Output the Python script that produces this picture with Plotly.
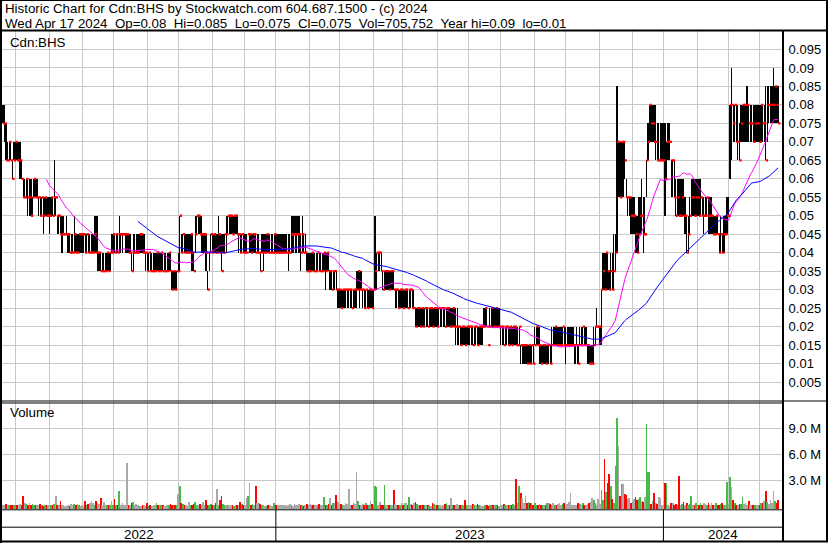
import numpy as np
import pandas as pd
import plotly.graph_objects as go

W, H = 830, 543

# ---------------- data ----------------
months = ["2022-04", "2022-05", "2022-06", "2022-07", "2022-08", "2022-09", "2022-10",
          "2022-11", "2022-12", "2023-01", "2023-02", "2023-03", "2023-04", "2023-05",
          "2023-06", "2023-07", "2023-08", "2023-09", "2023-10", "2023-11", "2023-12",
          "2024-01", "2024-02", "2024-03", "2024-04"]
sessions_per_month = [8, 22, 21, 20, 22, 20, 22, 21, 20, 22, 19, 22, 19, 22, 20, 21, 22,
                      20, 22, 21, 20, 22, 20, 20, 13]
years = ["2022", "2023", "2024"]

price_tick_labels = ["0.005", "0.01", "0.015", "0.02", "0.025", "0.03", "0.035", "0.04",
                     "0.045", "0.05", "0.055", "0.06", "0.065", "0.07", "0.075", "0.08",
                     "0.085", "0.09", "0.095"]
volume_tick_labels = ["3.0 M", "6.0 M", "9.0 M"]

# daily prices in cents
high_cents = [
    8, 8, 7.5, 7, 7, 7, 6.5, 7, 7, 7,
    7, 7, 6.5, 6, 6, 6, 6, 6, 6, 5.5,
    6, 6, 6, 5.5, 5.5, 5.5, 5.5, 5.5, 5.5, 5.5,
    5.5, 5.5, 5.5, 6.5, 5.5, 5, 5, 5, 5, 5,
    4.5, 5, 4.5, 4.5, 4.5, 4.5, 5, 4.5, 4.5, 4.5,
    4.5, 4.5, 4.5, 4.5, 4.5, 4.5, 4.5, 4.5, 4.5, 5,
    5, 5, 4, 4, 4, 4, 4, 4, 4, 4,
    4.5, 4.5, 4.5, 4.5, 4.5, 5, 4.5, 4.5, 4.5, 4.5,
    4.5, 4.5, 4.5, 4, 4.5, 4.5, 4.5, 4.5, 4.5, 4.5,
    4.5, 4.5, 4, 4, 4, 4, 4, 4, 4, 4,
    4, 4, 4, 4, 4, 4, 4, 4, 4, 3.5,
    3.5, 3.5, 3.5, 4, 5, 4.5, 4.5, 4.5, 4.5, 4.5,
    4.5, 4.5, 4.5, 4, 5, 5, 5, 5, 5, 4.5,
    4.5, 4.5, 3.5, 4, 4.5, 4.5, 4.5, 4.5, 4.5, 5,
    4.5, 4.5, 4.5, 4.5, 5, 5, 5, 5, 5, 5,
    5, 5, 4.5, 4.5, 4.5, 4.5, 4.5, 4.5, 4.5, 4.5,
    4.5, 4.5, 4.5, 4.5, 4.5, 4.5, 4, 4.5, 4.5, 4.5,
    4.5, 4.5, 4.5, 4.5, 4.5, 4.5, 4.5, 4.5, 4.5, 4.5,
    4.5, 4.5, 4.5, 4.5, 4.5, 4.5, 5, 5, 5, 5,
    5, 5, 4.5, 5, 4.5, 4.5, 4, 4, 4, 4,
    4, 4, 4, 4, 4, 4, 4, 4, 4, 4,
    4, 3.5, 3.5, 3.5, 3.5, 3.5, 3, 3, 3, 3,
    3, 3, 3, 3, 3, 3, 3, 3, 3.5, 3.5,
    3.5, 3.5, 3, 3, 3, 3, 3, 3, 3, 3,
    5, 4, 4, 4, 4, 3.5, 3.5, 3.5, 3.5, 3.5,
    3.5, 3.5, 3.5, 3, 3, 3, 3, 3, 3, 3,
    3, 3, 3, 3, 3, 3, 2.5, 2.5, 2.5, 2.5,
    2.5, 2.5, 2.5, 2.5, 2.5, 2.5, 2.5, 2.5, 2.5, 2.5,
    2.5, 2.5, 2.5, 2.5, 2.5, 2.5, 2.5, 2.5, 2.5, 2.5,
    2.5, 2.5, 2.5, 2.5, 2, 2, 2, 2, 2, 2,
    2, 2, 2, 2, 2, 2, 2, 2, 2, 2,
    2.5, 2.5, 2.5, 1.5, 2.5, 2.5, 2.5, 2.5, 2.5, 2.5,
    2.5, 2, 2, 2, 2, 2, 2, 2, 2, 2,
    2, 2, 2, 2, 1.5, 1.5, 1.5, 1.5, 1.5, 1.5,
    1.5, 1.5, 1.5, 2, 2, 2, 2, 1.5, 1.5, 1.5,
    1.5, 1.5, 1.5, 1.5, 2, 2, 2, 2, 2, 2,
    2, 2, 2, 2, 2, 2, 2, 2, 2, 1.5,
    2, 1.5, 2, 2, 2, 2, 2, 1.5, 1.5, 1.5,
    1.5, 2, 2, 2.5, 2, 2, 3, 4, 4, 4,
    4, 3.5, 4, 4, 4.5, 4.5, 8.5, 7, 7, 7,
    7, 7, 6, 5.5, 5.5, 5.5, 5.5, 5.5, 5, 5,
    5.5, 5.5, 6, 5.5, 5.5, 6.5, 7.5, 8, 8, 8,
    8, 8, 7.5, 7.5, 7.5, 7.5, 7.5, 7.5, 7, 7.5,
    7.5, 6.5, 6.5, 6.5, 6, 6, 6, 6, 6, 6,
    5.5, 5, 5, 5.5, 6, 6, 6, 6, 6, 6,
    6, 5.5, 5.5, 5.5, 5.5, 5.5, 5.5, 5.5, 5, 5,
    5, 5, 4.5, 5, 4.5, 5, 5, 5.5, 5.5, 8,
    9, 8, 8, 8, 8, 7.5, 8, 8, 8, 8,
    8.5, 8, 8, 8, 8, 8, 8, 8, 8, 8,
    8, 8, 8.5, 8.5, 8.5, 8.5, 8.5, 9, 8.5, 8.5,
    8.5,
]
low_cents = [
    7.5, 7, 6.5, 6.5, 6.5, 6.5, 6, 6.5, 6.5, 6.5,
    6.5, 6, 6, 5.5, 5.5, 5.5, 5, 5, 5, 5,
    5.5, 5.5, 5.5, 5, 5, 5, 4.5, 5, 5, 5,
    4.5, 5, 5, 5, 5, 4.5, 4.5, 4.5, 4, 4.5,
    4.5, 4.5, 4, 4, 4, 4, 4, 4, 4, 4,
    4, 4, 4, 4, 4, 4, 4, 4, 4, 4,
    4, 3.5, 3.5, 3.5, 3.5, 3.5, 3.5, 3.5, 3.5, 3.5,
    4, 4, 4, 4, 4, 4, 4, 4, 4.5, 4,
    4, 4, 4, 3.5, 3.5, 4, 4, 4, 4, 4,
    4, 4, 3.5, 3.5, 3.5, 3.5, 3.5, 3.5, 3.5, 3.5,
    3.5, 3.5, 3.5, 3.5, 3.5, 3.5, 3.5, 3.5, 3.5, 3,
    3, 3, 3, 3.5, 3.5, 4, 4, 4, 4, 4,
    4, 4, 3.5, 3.5, 4, 4.5, 4.5, 4.5, 4, 4,
    4, 3.5, 3, 3.5, 4, 4, 4, 4, 4, 4,
    4, 3.5, 4, 4, 4, 4.5, 4.5, 4.5, 4.5, 4.5,
    4.5, 4.5, 4, 4, 4, 4, 4, 4, 4.5, 4,
    4, 4, 4, 4, 4, 4, 3.5, 4, 3.5, 4,
    4, 4, 4, 4, 4, 4, 4, 4, 4, 4,
    4, 4, 4, 4, 3.5, 4, 4, 4, 4.5, 4,
    4.5, 4, 3.5, 4, 4, 4, 3.5, 3.5, 3.5, 3.5,
    3.5, 3.5, 3.5, 3.5, 3.5, 3.5, 3.5, 3.5, 3, 3.5,
    3.5, 3, 3, 3, 3, 3, 2.5, 2.5, 2.5, 2.5,
    2.5, 2.5, 2.5, 2.5, 2.5, 2.5, 2.5, 2.5, 2.5, 3,
    2.5, 3, 2.5, 2.5, 2.5, 2.5, 2.5, 2.5, 2.5, 2.5,
    3, 3, 3.5, 3.5, 3.5, 3, 3, 3, 3, 3,
    3, 3, 3, 2.5, 2.5, 2.5, 2.5, 2.5, 2.5, 2.5,
    2.5, 2.5, 2.5, 2.5, 2.5, 2.5, 2, 2, 2, 2,
    2, 2, 2, 2, 2, 2, 2, 2, 2, 2,
    2, 2, 2, 2, 2, 2, 2, 2, 2, 2,
    2, 2, 1.5, 1.5, 1.5, 1.5, 1.5, 1.5, 1.5, 1.5,
    1.5, 1.5, 1.5, 1.5, 1.5, 1.5, 1.5, 1.5, 1.5, 1.5,
    2, 2, 2, 1.5, 2, 2, 2, 2, 2, 2,
    2, 1.5, 1.5, 1.5, 1.5, 1.5, 1.5, 1.5, 1.5, 1.5,
    1.5, 1.5, 1.5, 1.5, 1, 1, 1, 1, 1, 1,
    1, 1, 1, 1.5, 1.5, 1.5, 1, 1, 1, 1,
    1, 1, 1, 1, 1, 1.5, 1.5, 1.5, 1.5, 1.5,
    1.5, 1.5, 1.5, 1, 1.5, 1.5, 1.5, 1.5, 1.5, 1,
    1.5, 1, 1.5, 1.5, 1.5, 1.5, 1.5, 1, 1, 1,
    1, 1, 1.5, 2, 2, 1.5, 1.5, 3, 3, 3,
    3, 3, 3, 3, 3, 3.5, 4, 5.5, 5.5, 5.5,
    5.5, 6, 5.5, 5, 5, 4.5, 4.5, 4.5, 4, 4,
    4, 4.5, 4.5, 4, 4.5, 5.5, 6.5, 7, 7, 7,
    7, 6.5, 6.5, 6.5, 6.5, 6.5, 6.5, 5, 6, 6.5,
    6.5, 5.5, 5.5, 5.5, 5, 5, 5, 5, 5, 5,
    4.5, 4, 4, 4.5, 5, 5, 5, 5, 5, 5,
    5, 5, 4.5, 5, 5, 4.5, 4.5, 4.5, 4.5, 4.5,
    4.5, 4.5, 4, 4, 4, 4, 4.5, 4.5, 5, 6,
    6.5, 7, 7, 7, 6.5, 6.5, 7, 7, 7, 7,
    7, 7, 7, 7, 7, 7, 7, 7, 7, 7,
    7, 7, 6.5, 7, 7.5, 7.5, 7.5, 7.5, 7.5, 7.5,
    7.5,
]
close_cents = [
    7.5, 7.5, 6.5, 6.5, 7, 6.5, 6, 6.5, 7, 6.5,
    6.5, 6.5, 6, 5.5, 5.5, 6, 5.5, 5.5, 5, 5.5,
    6, 5.5, 5.5, 5.5, 5, 5.5, 5, 5.5, 5, 5,
    5, 5.5, 5, 5.5, 5.5, 5, 5, 4.5, 4.5, 4.5,
    4.5, 4.5, 4.5, 4, 4, 4, 4.5, 4, 4, 4.5,
    4.5, 4.5, 4.5, 4, 4.5, 4, 4, 4, 4, 4.5,
    4, 4, 4, 3.5, 3.5, 3.5, 3.5, 4, 3.5, 4,
    4, 4.5, 4, 4.5, 4, 4.5, 4.5, 4.5, 4.5, 4.5,
    4.5, 4, 4, 3.5, 4, 4, 4, 4, 4.5, 4.5,
    4, 4, 4, 3.5, 4, 3.5, 3.5, 3.5, 3.5, 4,
    3.5, 3.5, 4, 3.5, 3.5, 3.5, 3.5, 4, 3.5, 3,
    3.5, 3, 3.5, 3.5, 5, 4, 4.5, 4, 4, 4,
    4, 4.5, 4, 3.5, 4.5, 5, 5, 4.5, 4.5, 4.5,
    4.5, 4, 3, 4, 4.5, 4, 4.5, 4, 4, 4.5,
    4, 3.5, 4, 4.5, 4.5, 5, 5, 5, 4.5, 5,
    5, 4.5, 4.5, 4, 4.5, 4, 4, 4, 4.5, 4.5,
    4, 4.5, 4.5, 4, 4, 4, 3.5, 4, 4, 4,
    4.5, 4, 4, 4, 4, 4.5, 4, 4, 4, 4,
    4, 4, 4, 4, 4, 4, 4.5, 4.5, 4.5, 4.5,
    4.5, 4.5, 4, 4.5, 4, 4, 3.5, 3.5, 3.5, 4,
    3.5, 3.5, 3.5, 4, 3.5, 3.5, 3.5, 4, 3.5, 4,
    3.5, 3.5, 3, 3.5, 3.5, 3, 3, 3, 2.5, 3,
    3, 3, 3, 3, 3, 2.5, 3, 3, 3, 3.5,
    3, 3, 3, 2.5, 3, 2.5, 3, 3, 2.5, 3,
    3.5, 4, 4, 4, 3.5, 3, 3.5, 3.5, 3.5, 3,
    3.5, 3.5, 3, 3, 3, 2.5, 3, 3, 2.5, 3,
    3, 2.5, 3, 3, 2.5, 2.5, 2, 2.5, 2.5, 2,
    2.5, 2, 2.5, 2.5, 2, 2.5, 2.5, 2, 2.5, 2.5,
    2, 2.5, 2.5, 2.5, 2.5, 2, 2.5, 2.5, 2, 2,
    2.5, 2, 2, 2, 2, 1.5, 2, 2, 1.5, 2,
    2, 2, 2, 1.5, 2, 2, 1.5, 2, 2, 2,
    2, 2.5, 2, 1.5, 2, 2.5, 2, 2, 2.5, 2,
    2, 2, 2, 1.5, 2, 2, 1.5, 2, 1.5, 2,
    2, 1.5, 1.5, 2, 1.5, 1.5, 1.5, 1.5, 1, 1.5,
    1, 1.5, 1, 1.5, 2, 1.5, 1.5, 1, 1.5, 1.5,
    1, 1.5, 1.5, 1, 1.5, 1.5, 2, 1.5, 1.5, 1.5,
    1.5, 2, 1.5, 1.5, 1.5, 1.5, 1.5, 1.5, 1.5, 1.5,
    1.5, 1, 1.5, 1.5, 2, 1.5, 1.5, 1.5, 1, 1,
    1, 1.5, 2, 2, 2, 2, 3, 3.5, 3, 4,
    3.5, 3, 3.5, 3, 3.5, 4, 7, 7, 5.5, 7,
    7, 6.5, 5.5, 5.5, 5.5, 5, 5, 5, 4.5, 4,
    4.5, 5, 5, 4.5, 4.5, 6.5, 7, 8, 7.5, 7.5,
    7, 7, 6.5, 6.5, 6.5, 6.5, 6.5, 6, 7, 7,
    7, 6.5, 6.5, 5.5, 5, 5.5, 5, 5, 5.5, 5,
    5, 4, 4.5, 5, 5.5, 5.5, 5, 5.5, 5.5, 5,
    5.5, 5, 5, 5, 5.5, 5, 5, 5, 4.5, 4.5,
    5, 4.5, 4, 4.5, 4, 4.5, 4.5, 5, 5, 8,
    8, 7.5, 8, 7, 7, 6.5, 7.5, 8, 8, 8,
    8, 7.5, 7.5, 7.5, 7, 7.5, 7.5, 7.5, 7, 8,
    7.5, 7.5, 6.5, 8, 8, 8, 8, 8, 8.5, 8,
    7.5,
]
# daily volume in thousands of shares
volume_k = [
    150, 100, 200, 120, 80, 150, 100, 60, 120, 90,
    80, 250, 60, 1100, 400, 250, 150, 300, 120, 200,
    100, 80, 150, 60, 250, 100, 50, 80, 120, 60,
    150, 60, 80, 200, 1100, 150, 100, 600, 80, 60,
    30, 50, 100, 40, 200, 100, 250, 150, 200, 60,
    40, 80, 30, 600, 100, 250, 300, 550, 400, 150,
    600, 400, 250, 900, 150, 500, 100, 80, 60, 150,
    550, 100, 800, 60, 100, 1700, 150, 350, 100, 80,
    5000, 150, 60, 300, 500, 150, 250, 60, 40, 30,
    100, 80, 50, 350, 30, 100, 50, 80, 100, 400,
    150, 60, 100, 80, 50, 40, 100, 150, 200, 60,
    100, 60, 80, 1400, 2300, 300, 200, 100, 60, 50,
    500, 80, 150, 200, 450, 150, 60, 250, 100, 500,
    150, 650, 100, 60, 200, 100, 80, 300, 2000, 150,
    650, 1200, 200, 150, 60, 80, 40, 100, 60, 30,
    80, 60, 120, 450, 200, 80, 100, 900, 1100, 2600,
    100, 200, 150, 2300, 300, 300, 200, 100, 60, 40,
    40, 80, 60, 30, 50, 350, 100, 80, 60, 100,
    120, 80, 150, 50, 60, 200, 100, 30, 250, 80,
    150, 200, 150, 60, 50, 100, 250, 60, 200, 150,
    80, 60, 100, 150, 200, 60, 100, 1000, 150, 80,
    200, 900, 150, 300, 350, 1300, 500, 250, 200, 100,
    150, 300, 200, 2000, 150, 80, 400, 200, 3900, 600,
    100, 150, 200, 100, 300, 150, 80, 600, 200, 100,
    2300, 2200, 100, 500, 60, 150, 2400, 100, 150, 80,
    100, 60, 1800, 200, 150, 100, 80, 300, 100, 350,
    400, 100, 1000, 200, 150, 300, 450, 200, 80, 60,
    100, 150, 60, 80, 100, 50, 40, 300, 200, 100,
    150, 60, 80, 40, 100, 200, 400, 80, 100, 900,
    100, 60, 80, 200, 150, 100, 60, 80, 700, 150,
    100, 60, 150, 200, 80, 100, 200, 60, 100, 40,
    30, 60, 100, 20, 80, 60, 100, 60, 80, 100,
    40, 100, 80, 200, 60, 100, 80, 150, 100, 200,
    150, 3150, 300, 2300, 1500, 900, 300, 1200, 400, 500,
    350, 300, 150, 300, 100, 80, 200, 60, 100, 80,
    150, 300, 350, 200, 100, 400, 150, 100, 200, 400,
    150, 200, 300, 100, 200, 500, 1500, 150, 100, 80,
    150, 300, 200, 100, 350, 150, 80, 200, 300, 450,
    900, 700, 300, 150, 800, 200, 1800, 700, 5450, 1600,
    2600, 3750, 2300, 800, 300, 4600, 10100, 6900, 1200, 2500,
    2500, 1400, 1300, 800, 900, 300, 600, 800, 1000, 700,
    800, 1000, 600, 500, 1000, 9500, 3900, 3900, 200, 600,
    1500, 300, 200, 1000, 900, 150, 100, 2600, 2600, 100,
    50, 400, 300, 150, 200, 100, 3500, 100, 200, 500,
    100, 300, 100, 200, 1200, 100, 80, 300, 150, 100,
    300, 150, 350, 200, 150, 400, 100, 300, 150, 100,
    300, 150, 100, 200, 300, 150, 100, 2800, 200, 3400,
    2200, 700, 300, 100, 150, 250, 200, 1000, 200, 300,
    150, 600, 100, 150, 100, 60, 150, 100, 100, 300,
    400, 600, 1700, 500, 200, 700, 300, 1700, 600, 300,
    706,
]

n = len(close_cents)
if not (len(high_cents) == len(low_cents) == len(volume_k) == n == sum(sessions_per_month)):
    raise SystemExit(f"length mismatch {len(high_cents)} {len(low_cents)} {n} {len(volume_k)} {sum(sessions_per_month)}")

# ---------------- derived ----------------
idx = np.arange(n)
hi = np.array(high_cents) / 100.0
lo = np.array(low_cents) / 100.0
cl = np.array(close_cents) / 100.0
vol = np.array(volume_k) * 1000.0

ma_fast = pd.Series(cl).rolling(29).mean()
ma_slow = pd.Series(cl).rolling(88).mean()

chg = np.diff(cl, prepend=cl[0])
# near-opaque colours + zero bargap make plotly snap thin bars to whole pixels
UP, DOWN, FLAT = "rgba(70,185,70,0.99)", "rgba(255,0,0,0.99)", "rgba(168,168,168,0.99)"
vol_colors = np.where(chg > 1e-9, UP, np.where(chg < -1e-9, DOWN, FLAT))

month_start = np.concatenate([[0], np.cumsum(sessions_per_month)[:-1]])
grid_x = month_start[1:].tolist()
year_start = [int(s) for s, m in zip(month_start, months) if m.endswith("-01")]

price_ticks = [float(t) for t in price_tick_labels]
volume_ticks = [float(t.split()[0]) * 1e6 for t in volume_tick_labels]

# ---------------- geometry (pixels) ----------------
def fx(px):
    return px / W


def fy(py):
    return 1 - py / H


XL, XR = 2, 782
x_range = [-0.65, 502.5]
GRID = "#c8c8c8"
FONT = "Liberation Sans, Arial, sans-serif"
VOL_MIN, VOL_MAX = -0.346e6, 12.0e6
HDR = 13.3

fig = go.Figure()

# high-low bars
fig.add_trace(go.Bar(x=idx, y=hi - lo, base=lo, width=0.85,
                     marker=dict(color="rgba(0,0,0,0.99)", line=dict(width=0)),
                     xaxis="x", yaxis="y", hoverinfo="skip"))
# close ticks (right side of each bar)
fig.add_trace(go.Scatter(x=idx + 0.75, y=cl, mode="markers",
                         marker=dict(symbol="square", size=2.3, color="#ff0000",
                                     line=dict(width=0)),
                         xaxis="x", yaxis="y", hoverinfo="skip"))
# moving averages
fig.add_trace(go.Scatter(x=idx, y=ma_fast, mode="lines",
                         line=dict(color="#ff00ff", width=1), xaxis="x", yaxis="y",
                         hoverinfo="skip"))
fig.add_trace(go.Scatter(x=idx, y=ma_slow, mode="lines",
                         line=dict(color="#0000ff", width=1), xaxis="x", yaxis="y",
                         hoverinfo="skip"))
# volume (bars rise from the bottom of the panel)
fig.add_trace(go.Bar(x=idx, y=vol - VOL_MIN, base=VOL_MIN, width=1.1,
                     marker=dict(color=vol_colors.tolist(), line=dict(width=0)),
                     xaxis="x2", yaxis="y2", hoverinfo="skip"))

xcommon = dict(domain=[fx(XL), fx(XR)], range=x_range, tickvals=grid_x,
               showticklabels=False, ticks="", showgrid=True, gridcolor=GRID,
               gridwidth=1, zeroline=False, showline=False, fixedrange=True)

fig.update_layout(
    width=W, height=H, margin=dict(l=0, r=0, t=0, b=0),
    paper_bgcolor="white", plot_bgcolor="white", showlegend=False,
    barmode="overlay", bargap=0, bargroupgap=0,
    font=dict(family=FONT, size=13, color="black"),
    xaxis=dict(**xcommon, anchor="y"),
    xaxis2=dict(**xcommon, anchor="y2", matches="x"),
    yaxis=dict(domain=[fy(400.5), fy(31)], range=[0, 0.1], side="right",
               tickvals=price_ticks, ticktext=price_tick_labels,
               showgrid=True, gridcolor=GRID, gridwidth=1, zeroline=False,
               showline=False, ticks="outside", ticklen=3,
               tickcolor="rgba(0,0,0,0)", tickfont=dict(size=13, color="black"),
               anchor="x", fixedrange=True),
    yaxis2=dict(domain=[fy(509.3), fy(402.3)], range=[VOL_MIN, VOL_MAX], side="right",
                tickvals=volume_ticks, ticktext=volume_tick_labels,
                showgrid=True, gridcolor=GRID, gridwidth=1, zeroline=False,
                showline=False, ticks="outside", ticklen=3,
                tickcolor="rgba(0,0,0,0)", tickfont=dict(size=13, color="black"),
                anchor="x2", fixedrange=True),
)

shapes = []


def hline(y, x0, x1, w=1):
    shapes.append(dict(type="line", xref="paper", yref="paper", x0=fx(x0), x1=fx(x1),
                       y0=fy(y), y1=fy(y), line=dict(color="black", width=w)))


def vline(x, y0, y1, w=1):
    shapes.append(dict(type="line", xref="paper", yref="paper", x0=fx(x), x1=fx(x),
                       y0=fy(y0), y1=fy(y1), line=dict(color="black", width=w)))


hline(0.5, 0, 828, 1)          # top frame
hline(30.5, 0, 828, 2)         # header bottom
vline(1, 0, 543, 2)            # left frame
vline(827, 0, 542, 2)          # right frame
hline(541.5, 0, 828, 2)        # bottom frame
vline(783, 30, 542, 2)         # right edge of plot area
hline(401, 0, 828, 1)          # price panel bottom
hline(403, 0, 783, 1)          # volume panel top
hline(509.8, 0, 783, 1)        # volume panel bottom
hline(527.2, 0, 783, 1)        # date rows separator
for ys in year_start:
    shapes.append(dict(type="line", xref="x", yref="paper", x0=ys, x1=ys,
                       y0=fy(509.8), y1=fy(541), line=dict(color="black", width=1)))
fig.update_layout(shapes=shapes)

ann = []
nb = "\u00a0"
line1 = "Historic Chart for Cdn:BHS by Stockwatch.com 604.687.1500 - (c) 2024"
line2 = ("Wed Apr 17 2024" + nb * 2 + "Op=0.08" + nb * 2 + "Hi=0.085" + nb * 2 + "Lo=0.075"
         + nb * 2 + "Cl=0.075" + nb * 2 + "Vol=705,752" + nb * 2 + "Year hi=0.09"
         + nb * 2 + "lo=0.01")
ann.append(dict(text=line1, x=fx(3), y=fy(8.5), xref="paper", yref="paper",
                xanchor="left", yanchor="middle", showarrow=False, font=dict(size=HDR)))
ann.append(dict(text=line2, x=fx(3), y=fy(23), xref="paper", yref="paper",
                xanchor="left", yanchor="middle", showarrow=False, font=dict(size=HDR)))
ann.append(dict(text="Cdn:BHS", x=fx(8), y=fy(42), xref="paper", yref="paper",
                xanchor="left", yanchor="middle", showarrow=False, font=dict(size=HDR)))
ann.append(dict(text="Volume", x=fx(8), y=fy(412.5), xref="paper", yref="paper",
                xanchor="left", yanchor="middle", showarrow=False, font=dict(size=HDR)))
bounds = [x_range[0]] + year_start + [x_range[1]]
for i, yl in enumerate(years):
    ann.append(dict(text=yl, x=(bounds[i] + bounds[i + 1]) / 2, y=fy(534), xref="x",
                    yref="paper", xanchor="center", yanchor="middle", showarrow=False,
                    font=dict(size=HDR)))
fig.update_layout(annotations=ann)

fig.write_html("out.html", config={"displayModeBar": False},
               post_script="document.body.style.margin='0';document.body.style.padding='0';")
